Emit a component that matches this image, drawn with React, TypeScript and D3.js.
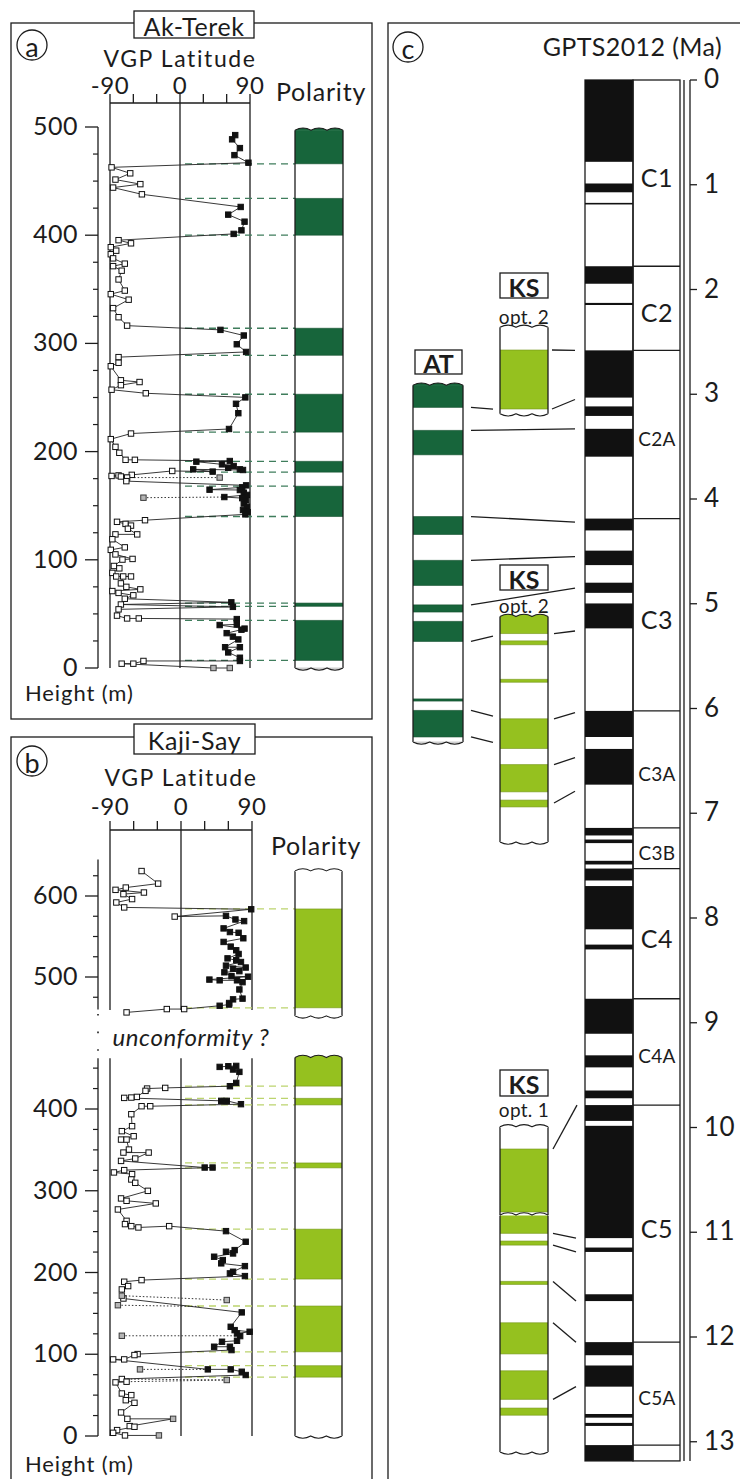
import React from 'react';
import * as d3 from 'd3';

const FONT = "Lato, 'Noto Sans', sans-serif";
const INK = '#1c1c1c';
const AT_GREEN = '#17653b';
const KS_GREEN = '#95c11f';
const AT_DASH = '#3f7d5c';
const KS_DASH = '#bcd46e';
const FS = 25;
const LS = 0.8;

// ---------------- data ----------------
const vgpTicks = [-90, -60, -30, 0, 30, 60, 90];
const vgpTickLabels = [-90, 0, 90];

// Ak-Terek
const akHeightLabels = [0, 100, 200, 300, 400, 500];
const akPolarityNormal = [[466, 497], [400, 434], [289, 314], [218, 253], [181, 191], [140, 168], [57, 60], [7, 44]];
const akColumnRange = [0, 497];
// [height m, VGP latitude, kind: 1 filled, 0 open, 2 grey]
const akVGP = [
  [492.5, 71, 1], [488.6, 67, 1], [480.5, 77, 1], [474, 70, 1], [467, 88, 1],
  [462.7, -88, 0], [457.2, -64, 0], [451.4, -83, 0], [447.2, -51, 0], [444, -86, 0], [437.8, -49, 0],
  [426.1, 78, 1], [419, 62, 1], [412.5, 83, 1], [404.5, 79, 1], [401.2, 69, 1],
  [395.4, -79, 0], [392.5, -63, 0], [388.9, -89, 0], [385.7, -82, 0], [382.4, -89, 0], [378.6, -86, 0],
  [373.7, -71, 0], [371.4, -86, 0], [367.2, -75, 0], [359.1, -79, 0], [348.8, -71, 0], [345.5, -89, 0],
  [340.4, -66, 0], [332.6, -86, 0], [324.2, -79, 0], [316.4, -68, 0],
  [312.5, 52, 1], [307.3, 82, 1], [299.2, 73, 1], [292.1, 85, 1],
  [287.3, -79, 0], [282.1, -79, 0], [278.9, -89, 0], [265.9, -76, 0], [264.3, -52, 0], [261.4, -76, 0],
  [257.2, -88, 0], [253.9, -44, 0],
  [250.1, 84, 1], [244.2, 72, 1], [235.5, 75, 1], [220.9, 63, 1],
  [216.7, -63, 0], [211.5, -89, 0], [204.4, -83, 0], [198.9, -78, 0], [192.4, -70, 0], [192.4, -58, 0],
  [191.3, 64, 1], [190.7, 21, 1], [188.2, 54, 1], [186.7, 69, 1], [185, 62, 1], [183.6, 77, 1],
  [183, 81, 1], [183.6, 17, 1], [181.5, 42, 1], [182.1, -10, 0],
  [178.5, -62, 0], [178, -79, 0], [177.5, -88, 0], [177, -76, 0], [176, -68, 0], [172.7, -69, 0],
  [168.8, 85, 1], [167, 80, 1], [164.8, 38, 1], [164.5, 77, 1], [162, 82, 1], [160, 86, 1], [158, 57, 1],
  [157, 80, 1], [155, 85, 1], [152, 82, 1], [149, 86, 1], [146, 81, 1], [144, 87, 1], [142, 84, 1],
  [136.6, -45, 0], [135.1, -81, 0], [133.2, -70, 0], [131.6, -63, 0], [128.7, -67, 0], [123.5, -55, 0],
  [123.5, -83, 0], [119, -87, 0], [111.5, -71, 0], [109.2, -89, 0], [105, -83, 0], [100.8, -61, 0],
  [100.2, -74, 0], [94.3, -85, 0], [92.1, -78, 0], [87.9, -87, 0], [84.6, -82, 0], [84.6, -63, 0],
  [84.6, -73, 0], [78.2, -76, 0], [75, -69, 0], [72.7, -51, 0], [71.1, -87, 0], [69.4, -79, 0],
  [67.2, -60, 0], [64, -71, 0],
  [60.7, 66, 1], [58.7, -76, 0], [56.5, 68, 1],
  [54.2, -79, 0], [48.4, -81, 0], [45.8, -68, 0], [45.8, -53, 0],
  [45.2, 73, 1], [40.3, 73, 1], [39.7, 51, 1], [36.4, 83, 1], [35.4, 79, 1], [32.2, 60, 1], [29, 68, 1],
  [26.4, 75, 1], [19.2, 58, 1], [19.2, 77, 1], [14.4, 62, 1], [9.5, 77, 1], [6.5, 77, 1],
  [6.5, -47, 0], [4, -60, 0], [4, -75, 0], [0, 43, 2], [0, 64, 2],
];
const akGray = [[176, 51], [157.4, -47]];
const akDotted = [[176, 51, 176, -60], [157.4, -47, 158, 57]];

// Kaji-Say
const ksUpperLabels = [500, 600];
const ksLowerLabels = [0, 100, 200, 300, 400];
const ksUpperNormal = [[462, 584]];
const ksLowerNormal = [[428, 463], [405, 413], [328, 334], [192, 253], [103, 159], [72, 86]];
const ksUpperRange = [452, 631];
const ksLowerRange = [0, 463];
const ksUpperVGP = [
  [630.8, -50, 0], [615.3, -29, 0], [610.4, -70, 0], [607.6, -83, 0], [604.3, -47, 0], [602.3, -73, 0],
  [596.2, -62, 0], [592, -82, 0], [585.9, -72, 0],
  [583.6, 89, 1], [574.6, -8, 0], [575.5, 57, 1], [571, 69, 1], [569, 80, 1], [560, 54, 1], [555.5, 62, 1],
  [554.6, 73, 1], [547.8, 79, 1], [543.3, 54, 1], [537.5, 63, 1], [533, 70, 1], [528.4, 73, 1], [523, 59, 1],
  [520.7, 70, 1], [518.5, 76, 1], [514, 57, 1], [511.7, 82, 1], [510.3, 66, 1], [507.2, 74, 1], [505.8, 55, 1],
  [501, 64, 1], [500.4, 85, 1], [496.8, 36, 1], [495.9, 49, 1], [495.9, 71, 1], [493.6, 78, 1], [484.6, 74, 1],
  [473.3, 78, 1], [472.4, 66, 1], [467.9, 61, 1], [466, 61, 1], [464.5, 49, 1],
  [460.4, 4, 0], [460.4, -18, 0], [456.3, -69, 0],
];
const ksLowerVGP = [
  [451.5, 49, 1], [452.3, 60, 1], [452.7, 70, 1], [448.3, 66, 1], [445.4, 74, 1], [431.9, 70, 1], [427.9, 62, 1],
  [425.8, -20, 0], [425, -43, 0], [422.2, -45, 0], [414.8, -56, 0], [414, -63, 0], [413.6, -72, 0],
  [410, 51, 1], [410, 58, 1], [405.9, 76, 1],
  [403.4, -39, 0], [403.4, -50, 0], [393.6, -63, 0], [379, -62, 0], [372.9, -75, 0], [366.7, -60, 0],
  [362.6, -76, 0], [362.6, -69, 0], [350.4, -66, 0], [346.7, -73, 0], [346.7, -41, 0], [339.4, -58, 0],
  [336.5, -76, 0],
  [328.4, 30, 1], [328.4, 40, 1],
  [325.2, -72, 0], [322.4, -85, 0], [320.3, -62, 0], [313.8, -63, 0], [309.7, -58, 0], [299.9, -42, 0],
  [290.6, -76, 0], [287.7, -69, 0], [284.5, -32, 0], [277.1, -80, 0], [263.2, -69, 0], [259.2, -71, 0],
  [256.7, -63, 0], [255.1, -54, 0], [256.7, -15, 0],
  [250.6, 57, 1], [237.6, 82, 1], [227.4, 68, 1], [225.4, 57, 1], [223.3, 66, 1], [219.3, 42, 1],
  [215.2, 53, 1], [211.2, 51, 1], [207.8, 81, 1], [200.9, 66, 1], [198.9, 62, 1], [195.6, 81, 1],
  [190.7, -50, 0], [188.7, -72, 0], [183.4, -67, 0], [179.3, -75, 0], [168.2, -73, 0],
  [151.2, 77, 1], [133.6, 63, 1], [129.5, 68, 1], [127.5, 87, 1], [125.4, 71, 1], [122.2, 75, 1],
  [116.5, 71, 1], [115.3, 52, 1], [109.2, 42, 1], [109.2, 62, 1], [105.1, 64, 1],
  [100.2, -55, 0], [99, -59, 0], [93.7, -72, 0], [93.7, -86, 0],
  [81.5, 34, 1], [81.5, 63, 1], [78.6, 77, 1], [74.6, 82, 1],
  [69.7, -75, 0], [66.4, -69, 0], [65.6, -83, 0], [52, -75, 0], [50, -63, 0], [43.8, -70, 0],
  [40.6, -59, 0], [28.8, -76, 0], [21, -68, 0], [21, -10, 2], [12.1, -65, 0], [11.3, -59, 0],
  [7.2, -81, 0], [3.9, -86, 0], [0.7, -71, 0], [0.7, -28, 2],
];
const ksGray = [[171.6, -75], [166.3, 58], [160, -80], [122.6, -75], [81.5, -52], [68.5, 58]];
const ksDotted = [
  [171.6, -75, 166.3, 58], [160, -80, 158.5, 23], [122.6, -75, 122.6, 71],
  [81.5, -52, 81.5, 34], [68.5, 58, 69.7, -75], [68.5, 58, 66.4, -69],
];

// GPTS2012 normal polarity intervals (Ma)
const gptsNormal = [
  [0, 0.781], [0.988, 1.072], [1.173, 1.185], [1.778, 1.945], [2.128, 2.148], [2.581, 3.032],
  [3.116, 3.207], [3.33, 3.596], [4.187, 4.3], [4.493, 4.631], [4.799, 4.896], [4.997, 5.235],
  [6.023, 6.272], [6.386, 6.727], [7.14, 7.212], [7.251, 7.285], [7.454, 7.489], [7.528, 7.642],
  [7.695, 8.108], [8.254, 8.3], [8.771, 9.105], [9.311, 9.426], [9.647, 9.721], [9.786, 9.937],
  [9.984, 11.056], [11.146, 11.188], [11.592, 11.657], [12.049, 12.174], [12.272, 12.474],
  [12.735, 12.77], [12.82, 12.849], [13.032, 13.183],
];
const gptsRange = [0, 13.183];
const chronNames = ['C1', 'C2', 'C2A', 'C3', 'C3A', 'C3B', 'C4', 'C4A', 'C5', 'C5A'];
const chronBounds = [0, 1.778, 2.581, 4.187, 6.023, 7.14, 7.528, 8.771, 9.786, 12.049, 13.032];
const ageLabels = [0, 1, 2, 3, 4, 5, 6, 7, 8, 9, 10, 11, 12, 13];

// correlation tie lines: [section height m, GPTS age Ma, short stub?]
const atTies = [[466, 3.207, 1], [434, 3.33, 0], [314, 4.22, 0], [253, 4.55, 0], [191, 4.85, 0], [140, 5.12, 1], [44, 6.272, 1], [7, 6.52, 1]];
const ks2UpperTies = [[584, 2.581], [462, 3.05]];
const ks2LowerTies = [[428, 5.26], [253, 6.04], [159, 6.47], [80, 6.79]];
const ks1UpperTies = [[584, 9.786]];
const ks1LowerTies = [[428, 11.056], [405, 11.188], [334, 11.657], [253, 12.049], [103, 12.474]];

// ---------------- scales ----------------
const akX = d3.scaleLinear().domain([-90, 90]).range([110, 250]);
const akY = d3.scaleLinear().domain([0, 500]).range([668, 127]);
const ksX = d3.scaleLinear().domain([-90, 90]).range([110, 252]);
const ksYu = d3.scaleLinear().domain([500, 600]).range([977, 896]);
const ksYl = d3.scaleLinear().domain([0, 400]).range([1436, 1109]);
const ageY = d3.scaleLinear().domain([0, 13]).range([80, 1441.75]);
const atY = d3.scaleLinear().domain([0, 500]).range([742, 383]);
const ks2uY = d3.scaleLinear().domain([462, 584]).range([409, 350]);
const ks2lY = d3.scaleLinear().domain([0, 462]).range([842, 617]);
const ks1uY = d3.scaleLinear().domain([462, 584]).range([1212, 1149]);
const ks1lY = d3.scaleLinear().domain([0, 462]).range([1452, 1216]);

// ---------------- helpers ----------------
function wavePath(x0: number, x1: number, y: number, dir: number, n = 3, amp = 2.2) {
  const p = (x1 - x0) / n;
  let d = `M${x0},${y}`;
  for (let i = 0; i < n; i++) {
    d += ` Q${x0 + p * i + p / 2},${y + dir * amp * 2} ${x0 + p * (i + 1)},${y}`;
  }
  return d;
}

function Wave({ x0, x1, y, dir, fill }: any) {
  const d = wavePath(x0, x1, y, dir);
  return (
    <g>
      <path d={`${d} L${x1},${y - dir * 0.6} L${x0},${y - dir * 0.6} Z`} fill={fill} stroke="none" />
      <path d={d} fill="none" stroke={INK} strokeWidth={1.1} />
    </g>
  );
}

function Column({ x0, x1, y, range, normals, color, topWave = true, bottomWave = true, bottomGray = false }: any) {
  const yTop = y(range[1]);
  const yBot = y(range[0]);
  const topFill = normals.some((n: number[]) => n[1] >= range[1] - 0.5) ? color : '#fff';
  const botFill = bottomGray ? '#cfcfcf' : normals.some((n: number[]) => n[0] <= range[0] + 0.5) ? color : '#fff';
  const edge = d3.color(color)!.darker(0.7).toString();
  return (
    <g>
      <rect x={x0} y={yTop} width={x1 - x0} height={yBot - yTop} fill="#fff" />
      {normals.map((n: number[], i: number) => {
        const t = y(Math.min(n[1], range[1]));
        const b = y(Math.max(n[0], range[0]));
        return <rect key={i} x={x0} y={t} width={x1 - x0} height={Math.max(b - t, 1.4)} fill={color} />;
      })}
      {normals.flatMap((n: number[], i: number) =>
        n.filter((v) => v > range[0] + 0.5 && v < range[1] - 0.5).map((v, j) => (
          <line key={`${i}-${j}`} x1={x0} x2={x1} y1={y(v)} y2={y(v)} stroke={edge} strokeWidth={0.6} />
        ))
      )}
      <line x1={x0} x2={x0} y1={yTop} y2={yBot} stroke={INK} strokeWidth={1.3} />
      <line x1={x1} x2={x1} y1={yTop} y2={yBot} stroke={INK} strokeWidth={1.3} />
      {topWave && <Wave x0={x0} x1={x1} y={yTop} dir={-1} fill={topFill} />}
      {bottomWave && <Wave x0={x0} x1={x1} y={yBot} dir={1} fill={botFill} />}
    </g>
  );
}

function Marker({ x, y, kind }: any) {
  const s = 5.4;
  const fill = kind === 1 ? '#111' : kind === 2 ? '#b5b5b5' : '#fff';
  const stroke = kind === 2 ? '#3a3a3a' : '#111';
  return <rect x={x - s / 2} y={y - s / 2} width={s} height={s} fill={fill} stroke={stroke} strokeWidth={1} />;
}

function VGP({ data, gray, dotted, x, y }: any) {
  const line = d3.line<number[]>().x((d) => x(d[1])).y((d) => y(d[0]));
  return (
    <g>
      {dotted.map((d: number[], i: number) => (
        <line key={i} x1={x(d[1])} y1={y(d[0])} x2={x(d[3])} y2={y(d[2])} stroke="#333" strokeWidth={1} strokeDasharray="1.5,2" />
      ))}
      <path d={line(data) || ''} fill="none" stroke="#222" strokeWidth={0.9} />
      {data.map((d: number[], i: number) => <Marker key={i} x={x(d[1])} y={y(d[0])} kind={d[2]} />)}
      {gray.map((d: number[], i: number) => <Marker key={`g${i}`} x={x(d[1])} y={y(d[0])} kind={2} />)}
    </g>
  );
}

function CircleLetter({ cx, cy, ch }: any) {
  return (
    <g>
      <circle cx={cx} cy={cy} r={15} fill="#fff" stroke={INK} strokeWidth={1.3} />
      <text x={cx} y={cy + 1} textAnchor="middle" dominantBaseline="central" fontSize={27} fontFamily={FONT} fill={INK}>{ch}</text>
    </g>
  );
}

function TitleBox({ x, y, w, h, label }: any) {
  return (
    <g>
      <rect x={x} y={y} width={w} height={h} fill="#fff" stroke={INK} strokeWidth={1.3} />
      <text x={x + w / 2} y={y + h / 2 + 1} textAnchor="middle" dominantBaseline="central" fontSize={FS} letterSpacing={0.6} fontFamily={FONT} fill={INK}>{label}</text>
    </g>
  );
}

function LabelBox({ x, y, w, h, label }: any) {
  return (
    <g>
      <rect x={x} y={y} width={w} height={h} fill="#fff" stroke={INK} strokeWidth={1.3} />
      <text x={x + w / 2} y={y + h / 2 + 1} textAnchor="middle" dominantBaseline="central" fontSize={25} fontWeight={700} fontFamily={FONT} fill={INK}>{label}</text>
    </g>
  );
}

function VgpAxis({ x, yAxis, labelBase, titleBase }: any) {
  return (
    <g>
      <text x={x(0)} y={titleBase} textAnchor="middle" fontSize={23} letterSpacing={1.6} fontFamily={FONT} fill={INK}>VGP Latitude</text>
      {vgpTickLabels.map((v) => (
        <text key={v} x={x(v)} y={labelBase} textAnchor="middle" fontSize={24} letterSpacing={0.6} fontFamily={FONT} fill={INK}>{v}</text>
      ))}
      <line x1={x(-90)} x2={x(90)} y1={yAxis} y2={yAxis} stroke={INK} strokeWidth={1.3} />
      {vgpTicks.map((v) => (
        <line key={v} x1={x(v)} x2={x(v)} y1={yAxis - 9} y2={yAxis} stroke={INK} strokeWidth={1.3} />
      ))}
    </g>
  );
}

function HeightAxis({ y, from, to, majors, minorStep }: any) {
  const minors = d3.range(Math.ceil(from / minorStep) * minorStep, to + 0.01, minorStep).filter((v: number) => !majors.includes(v));
  return (
    <g>
      <line x1={98} x2={98} y1={y(to)} y2={y(from)} stroke={INK} strokeWidth={1.3} />
      {majors.map((v: number) => (
        <g key={v}>
          <line x1={85} x2={98} y1={y(v)} y2={y(v)} stroke={INK} strokeWidth={1.3} />
          <text x={78} y={y(v) + 8} textAnchor="end" fontSize={FS} letterSpacing={0.5} fontFamily={FONT} fill={INK}>{v}</text>
        </g>
      ))}
      {minors.map((v: number) => (
        <line key={`m${v}`} x1={93} x2={98} y1={y(v)} y2={y(v)} stroke={INK} strokeWidth={1.2} />
      ))}
    </g>
  );
}

function Ties({ ties, colY, xa, xb, xshort }: any) {
  return (
    <g>
      {ties.map((t: number[], i: number) => {
        const y1 = colY(t[0]);
        const y2 = ageY(t[1]);
        const xe = t[2] ? xshort : xb;
        const ye = y1 + ((y2 - y1) * (xe - xa)) / (xb - xa);
        return <line key={i} x1={xa} y1={y1} x2={xe} y2={ye} stroke={INK} strokeWidth={1.3} />;
      })}
    </g>
  );
}

export default function App() {
  const akBounds = akPolarityNormal.flat().filter((v) => v > akColumnRange[0] && v < akColumnRange[1]);
  const ksUBounds = ksUpperNormal.flat().filter((v) => v > ksUpperRange[0] && v < ksUpperRange[1]);
  const ksLBounds = ksLowerNormal.flat().filter((v) => v > ksLowerRange[0] && v < ksLowerRange[1]);
  const gx0 = 585, gx1 = 633, cx1 = 680;
  const g0 = ageY(gptsRange[0]), g1 = ageY(gptsRange[1]);

  return (
    <svg width={740} height={1479} style={{ position: 'absolute', left: 0, top: 0, background: '#fff' }} fontFamily={FONT}>
      <rect x={0} y={0} width={740} height={1479} fill="#fff" />

      {/* ================= Panel a ================= */}
      <rect x={11} y={23} width={361} height={696} fill="none" stroke={INK} strokeWidth={1.3} />
      <TitleBox x={134} y={11} w={120} h={27} label="Ak-Terek" />
      <CircleLetter cx={32} cy={45} ch="a" />
      <VgpAxis x={akX} yAxis={103} labelBase={94} titleBase={67} />
      <text x={321} y={101} textAnchor="middle" fontSize={FS} letterSpacing={LS} fill={INK}>Polarity</text>
      {[-90, 0, 90].map((v) => (
        <line key={v} x1={akX(v)} x2={akX(v)} y1={103} y2={akY(0)} stroke={INK} strokeWidth={1.3} />
      ))}
      <HeightAxis y={akY} from={0} to={500} majors={akHeightLabels} minorStep={25} />
      <text x={25} y={701} fontSize={22} letterSpacing={0.9} fill={INK}>Height (m)</text>
      {akBounds.map((v, i) => (
        <line key={i} x1={185} x2={295} y1={akY(v)} y2={akY(v)} stroke={AT_DASH} strokeWidth={1.3} strokeDasharray="7,5" />
      ))}
      <VGP data={akVGP} gray={akGray} dotted={akDotted} x={akX} y={akY} />
      <Column x0={295} x1={343} y={akY} range={akColumnRange} normals={akPolarityNormal} color={AT_GREEN} bottomGray />

      {/* ================= Panel b ================= */}
      <rect x={11} y={737} width={361} height={780} fill="none" stroke={INK} strokeWidth={1.3} />
      <TitleBox x={134} y={724} w={121} h={30} label="Kaji-Say" />
      <CircleLetter cx={32} cy={761} ch="b" />
      <VgpAxis x={ksX} yAxis={830} labelBase={815} titleBase={786} />
      <text x={316} y={855} textAnchor="middle" fontSize={FS} letterSpacing={LS} fill={INK}>Polarity</text>
      {[-90, 0, 90].map((v) => (
        <g key={v}>
          <line x1={ksX(v)} x2={ksX(v)} y1={830} y2={1010} stroke={INK} strokeWidth={1.3} />
          <line x1={ksX(v)} x2={ksX(v)} y1={ksYl(462)} y2={ksYl(0)} stroke={INK} strokeWidth={1.3} />
        </g>
      ))}
      <HeightAxis y={ksYu} from={460} to={645} majors={ksUpperLabels} minorStep={25} />
      <HeightAxis y={ksYl} from={0} to={462} majors={ksLowerLabels} minorStep={25} />
      <line x1={98} x2={98} y1={1014} y2={1052} stroke={INK} strokeWidth={1.6} strokeDasharray="1.6,16" />
      <text x={191} y={1046} textAnchor="middle" fontSize={24} letterSpacing={0.6} fontStyle="italic" fill={INK}>unconformity ?</text>
      <text x={25} y={1472} fontSize={22} letterSpacing={0.9} fill={INK}>Height (m)</text>
      {ksUBounds.map((v, i) => (
        <line key={`u${i}`} x1={185} x2={295} y1={ksYu(v)} y2={ksYu(v)} stroke={KS_DASH} strokeWidth={1.3} strokeDasharray="7,5" />
      ))}
      {ksLBounds.map((v, i) => (
        <line key={`l${i}`} x1={185} x2={295} y1={ksYl(v)} y2={ksYl(v)} stroke={KS_DASH} strokeWidth={1.3} strokeDasharray="7,5" />
      ))}
      <VGP data={ksUpperVGP} gray={[]} dotted={[]} x={ksX} y={ksYu} />
      <VGP data={ksLowerVGP} gray={ksGray} dotted={ksDotted} x={ksX} y={ksYl} />
      <Column x0={295} x1={342} y={ksYu} range={ksUpperRange} normals={ksUpperNormal} color={KS_GREEN} />
      <Column x0={295} x1={342} y={ksYl} range={ksLowerRange} normals={ksLowerNormal} color={KS_GREEN} />

      {/* ================= Panel c ================= */}
      <rect x={388} y={23} width={400} height={1500} fill="none" stroke={INK} strokeWidth={1.3} />
      <CircleLetter cx={408} cy={47} ch="c" />
      <text x={722} y={56} textAnchor="end" fontSize={FS} letterSpacing={0.4} fill={INK}>GPTS2012 (Ma)</text>

      {/* GPTS column */}
      <rect x={gx0} y={g0} width={gx1 - gx0} height={g1 - g0} fill="#fff" stroke={INK} strokeWidth={1.3} />
      {gptsNormal.map((n, i) => (
        <rect key={i} x={gx0} y={ageY(n[0])} width={gx1 - gx0} height={Math.max(ageY(n[1]) - ageY(n[0]), 1.6)} fill="#111" />
      ))}
      <rect x={gx1} y={g0} width={cx1 - gx1} height={g1 - g0} fill="none" stroke={INK} strokeWidth={1.3} />
      {chronBounds.slice(1).map((b, i) => (
        <line key={i} x1={gx1} x2={cx1} y1={ageY(b)} y2={ageY(b)} stroke={INK} strokeWidth={1.3} />
      ))}
      {chronNames.map((c, i) => (
        <text key={c} x={657} y={ageY((chronBounds[i] + chronBounds[i + 1]) / 2) + 4} textAnchor="middle" dominantBaseline="central"
          fontSize={c.length > 2 ? 19 : 25} letterSpacing={c.length > 2 ? 0.3 : 0.6} fill={INK}>{c}</text>
      ))}
      <line x1={684} x2={684} y1={g0} y2={g1} stroke={INK} strokeWidth={1.3} />
      <line x1={690} x2={690} y1={ageY(0)} y2={g1} stroke={INK} strokeWidth={1.3} />
      {ageLabels.map((a) => (
        <g key={a}>
          <line x1={690} x2={697} y1={ageY(a)} y2={ageY(a)} stroke={INK} strokeWidth={1.3} />
          <text x={704} y={ageY(a) + 8} fontSize={26} letterSpacing={0.5} fill={INK}>{a}</text>
        </g>
      ))}

      {/* AT column */}
      <LabelBox x={415} y={350} w={47} h={24} label="AT" />
      <Column x0={413} x1={463} y={atY} range={akColumnRange} normals={akPolarityNormal} color={AT_GREEN} bottomGray />
      <Ties ties={atTies} colY={atY} xa={471} xb={575} xshort={493} />

      {/* KS opt. 2 (upper section) */}
      <LabelBox x={500} y={273} w={48} h={25} label="KS" />
      <text x={524} y={324} textAnchor="middle" fontSize={19} letterSpacing={0.3} fill={INK}>opt. 2</text>
      <Column x0={500} x1={548} y={ks2uY} range={ksUpperRange} normals={ksUpperNormal} color={KS_GREEN} />
      <Ties ties={ks2UpperTies} colY={ks2uY} xa={552} xb={575} xshort={575} />

      {/* KS opt. 2 (lower section) */}
      <LabelBox x={500} y={565} w={48} h={25} label="KS" />
      <text x={524} y={613} textAnchor="middle" fontSize={19} letterSpacing={0.3} fill={INK}>opt. 2</text>
      <Column x0={500} x1={548} y={ks2lY} range={ksLowerRange} normals={ksLowerNormal} color={KS_GREEN} />
      <Ties ties={ks2LowerTies} colY={ks2lY} xa={554} xb={575} xshort={575} />

      {/* KS opt. 1 */}
      <LabelBox x={500} y={1070} w={48} h={26} label="KS" />
      <text x={524} y={1117} textAnchor="middle" fontSize={19} letterSpacing={0.3} fill={INK}>opt. 1</text>
      <Column x0={500} x1={548} y={ks1uY} range={[456, 627]} normals={ksUpperNormal} color={KS_GREEN} bottomWave={false} />
      <Column x0={500} x1={548} y={ks1lY} range={ksLowerRange} normals={ksLowerNormal} color={KS_GREEN} topWave={false} />
      <path d={wavePath(500, 548, 1215, -1)} fill="none" stroke={INK} strokeWidth={1.1} />
      <Ties ties={ks1UpperTies} colY={ks1uY} xa={553} xb={577} xshort={577} />
      <Ties ties={ks1LowerTies} colY={ks1lY} xa={553} xb={576} xshort={576} />
    </svg>
  );
}
